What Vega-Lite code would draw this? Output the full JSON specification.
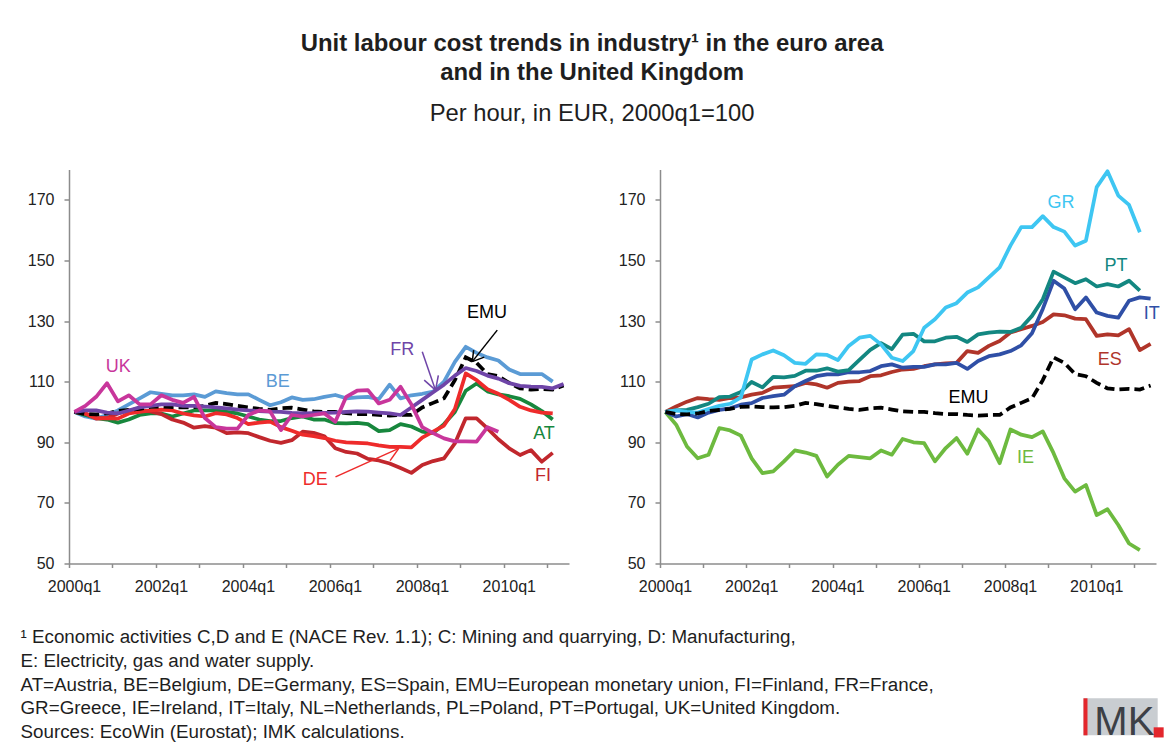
{
"$schema":"https://vega.github.io/schema/vega-lite/v6.json",
"background":"white",
"padding":{"left":20,"top":31.5,"right":0,"bottom":0},
"title":{"text":["Unit labour cost trends in industry¹ in the euro area","and in the United Kingdom"],"subtitle":"Per hour, in EUR, 2000q1=100","anchor":"middle","font":"Liberation Sans","fontSize":23.9,"fontWeight":"bold","lineHeight":28.5,"color":"#1e1e1e","subtitleFont":"Liberation Sans","subtitleFontSize":23.8,"subtitleColor":"#1e1e1e","subtitlePadding":17,"offset":44,"dx":0},
"datasets":{
"series":[
{"s":"BE","q":0,"v":100},{"s":"BE","q":1,"v":98.5},{"s":"BE","q":2,"v":97.8},{"s":"BE","q":3,"v":99},{"s":"BE","q":4,"v":100.5},{"s":"BE","q":5,"v":102.5},{"s":"BE","q":6,"v":104.5},{"s":"BE","q":7,"v":106.5},{"s":"BE","q":8,"v":106},{"s":"BE","q":9,"v":105.5},{"s":"BE","q":10,"v":105.5},{"s":"BE","q":11,"v":105.8},{"s":"BE","q":12,"v":105},{"s":"BE","q":13,"v":106.8},{"s":"BE","q":14,"v":106.2},{"s":"BE","q":15,"v":105.8},{"s":"BE","q":16,"v":105.8},{"s":"BE","q":17,"v":104},{"s":"BE","q":18,"v":102.2},{"s":"BE","q":19,"v":103.2},{"s":"BE","q":20,"v":104.8},{"s":"BE","q":21,"v":104},{"s":"BE","q":22,"v":104.2},{"s":"BE","q":23,"v":105},{"s":"BE","q":24,"v":105.6},{"s":"BE","q":25,"v":104.5},{"s":"BE","q":26,"v":104.8},{"s":"BE","q":27,"v":105},{"s":"BE","q":28,"v":104.2},{"s":"BE","q":29,"v":109},{"s":"BE","q":30,"v":104.5},{"s":"BE","q":31,"v":105.5},{"s":"BE","q":32,"v":106},{"s":"BE","q":33,"v":106.7},{"s":"BE","q":34,"v":110},{"s":"BE","q":35,"v":116.5},{"s":"BE","q":36,"v":121.5},{"s":"BE","q":37,"v":119.5},{"s":"BE","q":38,"v":118},{"s":"BE","q":39,"v":117},{"s":"BE","q":40,"v":114},{"s":"BE","q":41,"v":112.5},{"s":"BE","q":42,"v":112.5},{"s":"BE","q":43,"v":112.5},{"s":"BE","q":44,"v":110},
{"s":"AT","q":0,"v":100},{"s":"AT","q":1,"v":99},{"s":"AT","q":2,"v":98},{"s":"AT","q":3,"v":97.5},{"s":"AT","q":4,"v":96.5},{"s":"AT","q":5,"v":97.5},{"s":"AT","q":6,"v":99},{"s":"AT","q":7,"v":99.5},{"s":"AT","q":8,"v":99.5},{"s":"AT","q":9,"v":98.5},{"s":"AT","q":10,"v":99.5},{"s":"AT","q":11,"v":100.5},{"s":"AT","q":12,"v":100.5},{"s":"AT","q":13,"v":100.5},{"s":"AT","q":14,"v":100},{"s":"AT","q":15,"v":99.5},{"s":"AT","q":16,"v":98.5},{"s":"AT","q":17,"v":97.5},{"s":"AT","q":18,"v":97},{"s":"AT","q":19,"v":97},{"s":"AT","q":20,"v":98},{"s":"AT","q":21,"v":98.5},{"s":"AT","q":22,"v":97.5},{"s":"AT","q":23,"v":97.5},{"s":"AT","q":24,"v":96.3},{"s":"AT","q":25,"v":96.2},{"s":"AT","q":26,"v":96.4},{"s":"AT","q":27,"v":96},{"s":"AT","q":28,"v":93.7},{"s":"AT","q":29,"v":94},{"s":"AT","q":30,"v":96},{"s":"AT","q":31,"v":95.2},{"s":"AT","q":32,"v":93.5},{"s":"AT","q":33,"v":93},{"s":"AT","q":34,"v":96},{"s":"AT","q":35,"v":100},{"s":"AT","q":36,"v":107},{"s":"AT","q":37,"v":109.4},{"s":"AT","q":38,"v":106.8},{"s":"AT","q":39,"v":105.8},{"s":"AT","q":40,"v":105.2},{"s":"AT","q":41,"v":104.3},{"s":"AT","q":42,"v":102.5},{"s":"AT","q":43,"v":100.3},{"s":"AT","q":44,"v":97.5},
{"s":"FI","q":0,"v":100},{"s":"FI","q":1,"v":99.5},{"s":"FI","q":2,"v":98},{"s":"FI","q":3,"v":98},{"s":"FI","q":4,"v":99.5},{"s":"FI","q":5,"v":100.5},{"s":"FI","q":6,"v":100.5},{"s":"FI","q":7,"v":100.2},{"s":"FI","q":8,"v":99.3},{"s":"FI","q":9,"v":97.5},{"s":"FI","q":10,"v":96.5},{"s":"FI","q":11,"v":94.8},{"s":"FI","q":12,"v":95.3},{"s":"FI","q":13,"v":94.8},{"s":"FI","q":14,"v":93},{"s":"FI","q":15,"v":93.3},{"s":"FI","q":16,"v":93},{"s":"FI","q":17,"v":91.7},{"s":"FI","q":18,"v":90.5},{"s":"FI","q":19,"v":89.8},{"s":"FI","q":20,"v":90.7},{"s":"FI","q":21,"v":93.5},{"s":"FI","q":22,"v":93.1},{"s":"FI","q":23,"v":92},{"s":"FI","q":24,"v":88},{"s":"FI","q":25,"v":86.8},{"s":"FI","q":26,"v":86.3},{"s":"FI","q":27,"v":84.5},{"s":"FI","q":28,"v":84},{"s":"FI","q":29,"v":83},{"s":"FI","q":30,"v":81.5},{"s":"FI","q":31,"v":79.9},{"s":"FI","q":32,"v":82.5},{"s":"FI","q":33,"v":83.8},{"s":"FI","q":34,"v":84.7},{"s":"FI","q":35,"v":89.6},{"s":"FI","q":36,"v":97.9},{"s":"FI","q":37,"v":97.9},{"s":"FI","q":38,"v":94.6},{"s":"FI","q":39,"v":91},{"s":"FI","q":40,"v":88},{"s":"FI","q":41,"v":85.8},{"s":"FI","q":42,"v":87.4},{"s":"FI","q":43,"v":83.6},{"s":"FI","q":44,"v":86.5},
{"s":"DE","q":0,"v":100},{"s":"DE","q":1,"v":99.5},{"s":"DE","q":2,"v":97.8},{"s":"DE","q":3,"v":98},{"s":"DE","q":4,"v":97.8},{"s":"DE","q":5,"v":99.5},{"s":"DE","q":6,"v":100},{"s":"DE","q":7,"v":100.5},{"s":"DE","q":8,"v":100.8},{"s":"DE","q":9,"v":100.5},{"s":"DE","q":10,"v":99.5},{"s":"DE","q":11,"v":98.9},{"s":"DE","q":12,"v":98.5},{"s":"DE","q":13,"v":99.6},{"s":"DE","q":14,"v":99.2},{"s":"DE","q":15,"v":98},{"s":"DE","q":16,"v":96},{"s":"DE","q":17,"v":96.5},{"s":"DE","q":18,"v":96.8},{"s":"DE","q":19,"v":95},{"s":"DE","q":20,"v":93.8},{"s":"DE","q":21,"v":92.5},{"s":"DE","q":22,"v":92},{"s":"DE","q":23,"v":91.4},{"s":"DE","q":24,"v":90.5},{"s":"DE","q":25,"v":90},{"s":"DE","q":26,"v":89.8},{"s":"DE","q":27,"v":89.6},{"s":"DE","q":28,"v":89},{"s":"DE","q":29,"v":88.5},{"s":"DE","q":30,"v":88.5},{"s":"DE","q":31,"v":88.3},{"s":"DE","q":32,"v":91.5},{"s":"DE","q":33,"v":93.5},{"s":"DE","q":34,"v":95.5},{"s":"DE","q":35,"v":101},{"s":"DE","q":36,"v":112.7},{"s":"DE","q":37,"v":110.5},{"s":"DE","q":38,"v":107.5},{"s":"DE","q":39,"v":106},{"s":"DE","q":40,"v":104},{"s":"DE","q":41,"v":101.7},{"s":"DE","q":42,"v":100.5},{"s":"DE","q":43,"v":99.8},{"s":"DE","q":44,"v":99.5},
{"s":"FR","q":0,"v":100},{"s":"FR","q":1,"v":100.5},{"s":"FR","q":2,"v":100.5},{"s":"FR","q":3,"v":99.8},{"s":"FR","q":4,"v":99.5},{"s":"FR","q":5,"v":100.5},{"s":"FR","q":6,"v":101.5},{"s":"FR","q":7,"v":102},{"s":"FR","q":8,"v":102.5},{"s":"FR","q":9,"v":102.5},{"s":"FR","q":10,"v":102},{"s":"FR","q":11,"v":102},{"s":"FR","q":12,"v":101.8},{"s":"FR","q":13,"v":101.5},{"s":"FR","q":14,"v":101.2},{"s":"FR","q":15,"v":100.8},{"s":"FR","q":16,"v":100.5},{"s":"FR","q":17,"v":100.3},{"s":"FR","q":18,"v":100.1},{"s":"FR","q":19,"v":100},{"s":"FR","q":20,"v":99.7},{"s":"FR","q":21,"v":99.5},{"s":"FR","q":22,"v":99.6},{"s":"FR","q":23,"v":99.7},{"s":"FR","q":24,"v":99.8},{"s":"FR","q":25,"v":100},{"s":"FR","q":26,"v":100.2},{"s":"FR","q":27,"v":100.1},{"s":"FR","q":28,"v":99.8},{"s":"FR","q":29,"v":99.5},{"s":"FR","q":30,"v":99},{"s":"FR","q":31,"v":101.5},{"s":"FR","q":32,"v":104},{"s":"FR","q":33,"v":106.5},{"s":"FR","q":34,"v":109},{"s":"FR","q":35,"v":112},{"s":"FR","q":36,"v":114.5},{"s":"FR","q":37,"v":113.5},{"s":"FR","q":38,"v":112},{"s":"FR","q":39,"v":111},{"s":"FR","q":40,"v":109.5},{"s":"FR","q":41,"v":108.6},{"s":"FR","q":42,"v":108.4},{"s":"FR","q":43,"v":108.3},{"s":"FR","q":44,"v":107.8},{"s":"FR","q":45,"v":109.2},
{"s":"UK","q":0,"v":100},{"s":"UK","q":1,"v":102},{"s":"UK","q":2,"v":105},{"s":"UK","q":3,"v":109.5},{"s":"UK","q":4,"v":103.5},{"s":"UK","q":5,"v":105.5},{"s":"UK","q":6,"v":102.5},{"s":"UK","q":7,"v":102.5},{"s":"UK","q":8,"v":105.5},{"s":"UK","q":9,"v":104},{"s":"UK","q":10,"v":103},{"s":"UK","q":11,"v":105},{"s":"UK","q":12,"v":98},{"s":"UK","q":13,"v":95},{"s":"UK","q":14,"v":94.5},{"s":"UK","q":15,"v":94.5},{"s":"UK","q":16,"v":99},{"s":"UK","q":17,"v":100.5},{"s":"UK","q":18,"v":100.2},{"s":"UK","q":19,"v":94},{"s":"UK","q":20,"v":99},{"s":"UK","q":21,"v":98.5},{"s":"UK","q":22,"v":99},{"s":"UK","q":23,"v":99.5},{"s":"UK","q":24,"v":96.8},{"s":"UK","q":25,"v":105},{"s":"UK","q":26,"v":107},{"s":"UK","q":27,"v":107.2},{"s":"UK","q":28,"v":102.8},{"s":"UK","q":29,"v":104},{"s":"UK","q":30,"v":108.3},{"s":"UK","q":31,"v":102.5},{"s":"UK","q":32,"v":95},{"s":"UK","q":33,"v":93},{"s":"UK","q":34,"v":91.3},{"s":"UK","q":35,"v":90.3},{"s":"UK","q":36,"v":90.3},{"s":"UK","q":37,"v":90.2},{"s":"UK","q":38,"v":95},{"s":"UK","q":39,"v":93.5},
{"s":"EMU","q":0,"v":100},{"s":"EMU","q":1,"v":99.3},{"s":"EMU","q":2,"v":99.2},{"s":"EMU","q":3,"v":99.5},{"s":"EMU","q":4,"v":100.3},{"s":"EMU","q":5,"v":100.7},{"s":"EMU","q":6,"v":101},{"s":"EMU","q":7,"v":101.7},{"s":"EMU","q":8,"v":101.8},{"s":"EMU","q":9,"v":101.6},{"s":"EMU","q":10,"v":101.5},{"s":"EMU","q":11,"v":101.6},{"s":"EMU","q":12,"v":102},{"s":"EMU","q":13,"v":103},{"s":"EMU","q":14,"v":102.6},{"s":"EMU","q":15,"v":102},{"s":"EMU","q":16,"v":101.5},{"s":"EMU","q":17,"v":101},{"s":"EMU","q":18,"v":100.7},{"s":"EMU","q":19,"v":101.2},{"s":"EMU","q":20,"v":101.4},{"s":"EMU","q":21,"v":100.8},{"s":"EMU","q":22,"v":100.2},{"s":"EMU","q":23,"v":100},{"s":"EMU","q":24,"v":100},{"s":"EMU","q":25,"v":99.6},{"s":"EMU","q":26,"v":99.3},{"s":"EMU","q":27,"v":99.3},{"s":"EMU","q":28,"v":99},{"s":"EMU","q":29,"v":98.8},{"s":"EMU","q":30,"v":99},{"s":"EMU","q":31,"v":99},{"s":"EMU","q":32,"v":101.5},{"s":"EMU","q":33,"v":103},{"s":"EMU","q":34,"v":104.5},{"s":"EMU","q":35,"v":110.5},{"s":"EMU","q":36,"v":118},{"s":"EMU","q":37,"v":116.2},{"s":"EMU","q":38,"v":112.5},{"s":"EMU","q":39,"v":111.8},{"s":"EMU","q":40,"v":109.6},{"s":"EMU","q":41,"v":107.8},{"s":"EMU","q":42,"v":107.4},{"s":"EMU","q":43,"v":107.6},{"s":"EMU","q":44,"v":107.4},{"s":"EMU","q":45,"v":108.7},
{"s":"IE","q":0,"v":100},{"s":"IE","q":1,"v":95.8},{"s":"IE","q":2,"v":88.6},{"s":"IE","q":3,"v":84.7},{"s":"IE","q":4,"v":85.9},{"s":"IE","q":5,"v":94.7},{"s":"IE","q":6,"v":93.9},{"s":"IE","q":7,"v":92.2},{"s":"IE","q":8,"v":84.7},{"s":"IE","q":9,"v":79.8},{"s":"IE","q":10,"v":80.4},{"s":"IE","q":11,"v":83.7},{"s":"IE","q":12,"v":87.3},{"s":"IE","q":13,"v":86.6},{"s":"IE","q":14,"v":85.5},{"s":"IE","q":15,"v":78.7},{"s":"IE","q":16,"v":82.6},{"s":"IE","q":17,"v":85.5},{"s":"IE","q":18,"v":85.1},{"s":"IE","q":19,"v":84.7},{"s":"IE","q":20,"v":87.3},{"s":"IE","q":21,"v":85.9},{"s":"IE","q":22,"v":91.1},{"s":"IE","q":23,"v":90},{"s":"IE","q":24,"v":89.7},{"s":"IE","q":25,"v":83.7},{"s":"IE","q":26,"v":88.1},{"s":"IE","q":27,"v":91.4},{"s":"IE","q":28,"v":86.2},{"s":"IE","q":29,"v":94.2},{"s":"IE","q":30,"v":90.3},{"s":"IE","q":31,"v":83.1},{"s":"IE","q":32,"v":94.2},{"s":"IE","q":33,"v":92.5},{"s":"IE","q":34,"v":91.7},{"s":"IE","q":35,"v":93.6},{"s":"IE","q":36,"v":86.4},{"s":"IE","q":37,"v":78.1},{"s":"IE","q":38,"v":73.7},{"s":"IE","q":39,"v":75.9},{"s":"IE","q":40,"v":66},{"s":"IE","q":41,"v":67.9},{"s":"IE","q":42,"v":62.7},{"s":"IE","q":43,"v":56.6},{"s":"IE","q":44,"v":54.4},
{"s":"ES","q":0,"v":100},{"s":"ES","q":1,"v":101.8},{"s":"ES","q":2,"v":103.4},{"s":"ES","q":3,"v":104.6},{"s":"ES","q":4,"v":104.2},{"s":"ES","q":5,"v":104},{"s":"ES","q":6,"v":104.6},{"s":"ES","q":7,"v":104.8},{"s":"ES","q":8,"v":105.7},{"s":"ES","q":9,"v":106.3},{"s":"ES","q":10,"v":108},{"s":"ES","q":11,"v":108.3},{"s":"ES","q":12,"v":108.5},{"s":"ES","q":13,"v":109.6},{"s":"ES","q":14,"v":109.1},{"s":"ES","q":15,"v":108},{"s":"ES","q":16,"v":109.6},{"s":"ES","q":17,"v":110},{"s":"ES","q":18,"v":110.2},{"s":"ES","q":19,"v":111.8},{"s":"ES","q":20,"v":112.1},{"s":"ES","q":21,"v":113.2},{"s":"ES","q":22,"v":114},{"s":"ES","q":23,"v":114.2},{"s":"ES","q":24,"v":115.1},{"s":"ES","q":25,"v":115.7},{"s":"ES","q":26,"v":116},{"s":"ES","q":27,"v":116.2},{"s":"ES","q":28,"v":120.1},{"s":"ES","q":29,"v":119.5},{"s":"ES","q":30,"v":121.8},{"s":"ES","q":31,"v":123.4},{"s":"ES","q":32,"v":126.2},{"s":"ES","q":33,"v":127.3},{"s":"ES","q":34,"v":128.4},{"s":"ES","q":35,"v":129.7},{"s":"ES","q":36,"v":132.2},{"s":"ES","q":37,"v":131.9},{"s":"ES","q":38,"v":130.8},{"s":"ES","q":39,"v":130.6},{"s":"ES","q":40,"v":125.1},{"s":"ES","q":41,"v":125.6},{"s":"ES","q":42,"v":125.3},{"s":"ES","q":43,"v":127.3},{"s":"ES","q":44,"v":120.4},{"s":"ES","q":45,"v":122.5},
{"s":"IT","q":0,"v":100},{"s":"IT","q":1,"v":98.5},{"s":"IT","q":2,"v":99.3},{"s":"IT","q":3,"v":98.2},{"s":"IT","q":4,"v":99.8},{"s":"IT","q":5,"v":100.7},{"s":"IT","q":6,"v":101.2},{"s":"IT","q":7,"v":102.4},{"s":"IT","q":8,"v":102.9},{"s":"IT","q":9,"v":104.6},{"s":"IT","q":10,"v":105.2},{"s":"IT","q":11,"v":105.7},{"s":"IT","q":12,"v":108.5},{"s":"IT","q":13,"v":110.2},{"s":"IT","q":14,"v":111.8},{"s":"IT","q":15,"v":112.4},{"s":"IT","q":16,"v":112.4},{"s":"IT","q":17,"v":113.1},{"s":"IT","q":18,"v":113.1},{"s":"IT","q":19,"v":113.5},{"s":"IT","q":20,"v":115.1},{"s":"IT","q":21,"v":115.7},{"s":"IT","q":22,"v":114.6},{"s":"IT","q":23,"v":114.9},{"s":"IT","q":24,"v":114.9},{"s":"IT","q":25,"v":115.7},{"s":"IT","q":26,"v":115.7},{"s":"IT","q":27,"v":116.2},{"s":"IT","q":28,"v":114.2},{"s":"IT","q":29,"v":116.8},{"s":"IT","q":30,"v":118.4},{"s":"IT","q":31,"v":119},{"s":"IT","q":32,"v":120.1},{"s":"IT","q":33,"v":122},{"s":"IT","q":34,"v":126},{"s":"IT","q":35,"v":134},{"s":"IT","q":36,"v":143.3},{"s":"IT","q":37,"v":140.7},{"s":"IT","q":38,"v":133.9},{"s":"IT","q":39,"v":137.8},{"s":"IT","q":40,"v":132.8},{"s":"IT","q":41,"v":131.7},{"s":"IT","q":42,"v":131.1},{"s":"IT","q":43,"v":136.7},{"s":"IT","q":44,"v":137.8},{"s":"IT","q":45,"v":137.4},
{"s":"PT","q":0,"v":100},{"s":"PT","q":1,"v":100.5},{"s":"PT","q":2,"v":100.7},{"s":"PT","q":3,"v":101.6},{"s":"PT","q":4,"v":102.7},{"s":"PT","q":5,"v":104.9},{"s":"PT","q":6,"v":105.1},{"s":"PT","q":7,"v":106.6},{"s":"PT","q":8,"v":109.9},{"s":"PT","q":9,"v":108.1},{"s":"PT","q":10,"v":111.6},{"s":"PT","q":11,"v":111.4},{"s":"PT","q":12,"v":111.9},{"s":"PT","q":13,"v":113.6},{"s":"PT","q":14,"v":113.6},{"s":"PT","q":15,"v":114.4},{"s":"PT","q":16,"v":113.3},{"s":"PT","q":17,"v":113.8},{"s":"PT","q":18,"v":117.2},{"s":"PT","q":19,"v":120.5},{"s":"PT","q":20,"v":122.7},{"s":"PT","q":21,"v":120.7},{"s":"PT","q":22,"v":125.5},{"s":"PT","q":23,"v":125.8},{"s":"PT","q":24,"v":123.3},{"s":"PT","q":25,"v":123.3},{"s":"PT","q":26,"v":124.5},{"s":"PT","q":27,"v":124.8},{"s":"PT","q":28,"v":123.1},{"s":"PT","q":29,"v":125.6},{"s":"PT","q":30,"v":126.2},{"s":"PT","q":31,"v":126.5},{"s":"PT","q":32,"v":126.4},{"s":"PT","q":33,"v":127.8},{"s":"PT","q":34,"v":131.7},{"s":"PT","q":35,"v":137.2},{"s":"PT","q":36,"v":146.3},{"s":"PT","q":37,"v":144.4},{"s":"PT","q":38,"v":142.5},{"s":"PT","q":39,"v":143.8},{"s":"PT","q":40,"v":141.4},{"s":"PT","q":41,"v":142.2},{"s":"PT","q":42,"v":141.4},{"s":"PT","q":43,"v":143.3},{"s":"PT","q":44,"v":140},
{"s":"GR","q":0,"v":100},{"s":"GR","q":1,"v":100.5},{"s":"GR","q":2,"v":100},{"s":"GR","q":3,"v":99.8},{"s":"GR","q":4,"v":101},{"s":"GR","q":5,"v":102},{"s":"GR","q":6,"v":102.7},{"s":"GR","q":7,"v":104.8},{"s":"GR","q":8,"v":117.3},{"s":"GR","q":9,"v":119},{"s":"GR","q":10,"v":120.3},{"s":"GR","q":11,"v":118.7},{"s":"GR","q":12,"v":116.2},{"s":"GR","q":13,"v":115.9},{"s":"GR","q":14,"v":119},{"s":"GR","q":15,"v":118.8},{"s":"GR","q":16,"v":117.1},{"s":"GR","q":17,"v":121.8},{"s":"GR","q":18,"v":124.5},{"s":"GR","q":19,"v":125.1},{"s":"GR","q":20,"v":122.3},{"s":"GR","q":21,"v":117.9},{"s":"GR","q":22,"v":116.8},{"s":"GR","q":23,"v":120.1},{"s":"GR","q":24,"v":127.8},{"s":"GR","q":25,"v":130.6},{"s":"GR","q":26,"v":134.5},{"s":"GR","q":27,"v":135.9},{"s":"GR","q":28,"v":139.4},{"s":"GR","q":29,"v":141.1},{"s":"GR","q":30,"v":144.4},{"s":"GR","q":31,"v":147.7},{"s":"GR","q":32,"v":154.9},{"s":"GR","q":33,"v":161},{"s":"GR","q":34,"v":161},{"s":"GR","q":35,"v":164.6},{"s":"GR","q":36,"v":161},{"s":"GR","q":37,"v":159.5},{"s":"GR","q":38,"v":154.9},{"s":"GR","q":39,"v":156.5},{"s":"GR","q":40,"v":174.2},{"s":"GR","q":41,"v":179.4},{"s":"GR","q":42,"v":171.4},{"s":"GR","q":43,"v":168.3},{"s":"GR","q":44,"v":159.3}
],
"labels":[
{"panel":"L","s":"UK","q":4.04,"v":114.9},{"panel":"L","s":"BE","q":18.7,"v":109.9},{"panel":"L","s":"FR","q":30.15,"v":120.4},{"panel":"L","s":"EMU","q":37.95,"v":132.5},{"panel":"L","s":"DE","q":22.15,"v":77.4},{"panel":"L","s":"AT","q":43.2,"v":92.8},{"panel":"L","s":"FI","q":43.1,"v":79.0},
{"panel":"R","s":"GR","q":36.7,"v":169.0},{"panel":"R","s":"PT","q":41.8,"v":148.0},{"panel":"R","s":"IT","q":45.1,"v":132.2},{"panel":"R","s":"ES","q":41.2,"v":117.3},{"panel":"R","s":"EMU","q":28.1,"v":104.6},{"panel":"R","s":"IE","q":33.4,"v":84.8}
],
"arrows":[
{"s":"FR","q":32.0,"v":119.9,"q2":33.22,"v2":107.2},{"s":"FR","q":33.48,"v":112.1,"q2":33.22,"v2":107.2},{"s":"FR","q":32.18,"v":110.5,"q2":33.22,"v2":107.2},
{"s":"EMU","q":38.9,"v":127.0,"q2":36.6,"v2":116.6},{"s":"EMU","q":36.73,"v":120.4,"q2":36.6,"v2":116.6},{"s":"EMU","q":37.7,"v":118.1,"q2":36.6,"v2":116.6},
{"s":"DE","q":24.02,"v":78.6,"q2":29.84,"v2":88.0},{"s":"DE","q":28.48,"v":88.5,"q2":29.84,"v2":88.0},{"s":"DE","q":29.04,"v":83.95,"q2":29.84,"v2":88.0}
],
"notes":[
{"line":1,"text":"¹ Economic activities C,D and E (NACE Rev. 1.1); C: Mining and quarrying, D: Manufacturing,"},
{"line":2,"text":"E: Electricity, gas and water supply."},
{"line":3,"text":"AT=Austria, BE=Belgium, DE=Germany, ES=Spain, EMU=European monetary union, FI=Finland, FR=France,"},
{"line":4,"text":"GR=Greece, IE=Ireland, IT=Italy, NL=Netherlands, PL=Poland, PT=Portugal, UK=United Kingdom."},
{"line":5,"text":"Sources: EcoWin (Eurostat); IMK calculations."}
]
},
"vconcat":[
{"hconcat":[
{"width":500,"height":394,
"layer":[
{"data":{"name":"series"},"transform":[{"filter":{"field":"s","oneOf":["BE","AT","FI","DE"]}}],
"mark":{"type":"line","strokeWidth":3.75,"strokeJoin":"round"},
"encoding":{"x":{"field":"q","type":"quantitative","scale":{"domain":[-0.5,45.5],"nice":false,"zero":false},"axis":{"values":[-0.5,3.5,7.5,11.5,15.5,19.5,23.5,27.5,31.5,35.5,39.5,43.5],"labelExpr":"(datum.value + 0.5) % 8 == 0 ? (2000 + (datum.value + 0.5) / 4) + 'q1' : ''","labelOffset":5,"tickSize":4,"labelPadding":11,"labelOverlap":false,"labelFlush":false}},
"y":{"field":"v","type":"quantitative","scale":{"domain":[50,180],"nice":false,"zero":false},"axis":{"values":[50,70,90,110,130,150,170],"tickSize":5,"labelPadding":10}},
"color":{"field":"s","type":"nominal","scale":{"domain":["AT","BE","DE","FI","FR","UK","EMU","GR","PT","IT","ES","IE"],"range":["#17873d","#5b9bd5","#ee2b2b","#c1272d","#6f45a8","#c8369b","#000000","#3ec6f2","#138781","#2f4fa6","#b0352a","#6dba3f"]},"legend":null}}},
{"data":{"name":"series"},"transform":[{"filter":"datum.s == 'EMU'"}],
"mark":{"type":"line","strokeWidth":3.75,"color":"#000000","strokeDash":[10,5]},
"encoding":{"x":{"field":"q","type":"quantitative"},"y":{"field":"v","type":"quantitative"}}},
{"data":{"name":"series"},"transform":[{"filter":{"field":"s","oneOf":["FR","UK"]}}],
"mark":{"type":"line","strokeWidth":3.75,"strokeJoin":"round"},
"encoding":{"x":{"field":"q","type":"quantitative"},"y":{"field":"v","type":"quantitative"},"color":{"field":"s","type":"nominal"}}},
{"data":{"name":"arrows"},
"mark":{"type":"rule","strokeWidth":1.5},
"encoding":{"x":{"field":"q","type":"quantitative"},"y":{"field":"v","type":"quantitative"},"x2":{"field":"q2"},"y2":{"field":"v2"},"color":{"field":"s","type":"nominal"}}},
{"data":{"name":"labels"},"transform":[{"filter":"datum.panel == 'L'"}],
"mark":{"type":"text","fontSize":18,"align":"center","baseline":"middle"},
"encoding":{"x":{"field":"q","type":"quantitative"},"y":{"field":"v","type":"quantitative"},"text":{"field":"s"},"color":{"field":"s","type":"nominal"}}}
]},
{"width":496,"height":394,
"layer":[
{"data":{"name":"series"},"transform":[{"filter":{"field":"s","oneOf":["IE","ES","IT","PT","GR"]}}],
"mark":{"type":"line","strokeWidth":3.75,"strokeJoin":"round"},
"encoding":{"x":{"field":"q","type":"quantitative","scale":{"domain":[-0.5,45.5],"nice":false,"zero":false},"axis":{"values":[-0.5,3.5,7.5,11.5,15.5,19.5,23.5,27.5,31.5,35.5,39.5,43.5],"labelExpr":"(datum.value + 0.5) % 8 == 0 ? (2000 + (datum.value + 0.5) / 4) + 'q1' : ''","labelOffset":5,"tickSize":4,"labelPadding":11,"labelOverlap":false,"labelFlush":false}},
"y":{"field":"v","type":"quantitative","scale":{"domain":[50,180],"nice":false,"zero":false},"axis":{"values":[50,70,90,110,130,150,170],"tickSize":5,"labelPadding":10}},
"color":{"field":"s","type":"nominal","scale":{"domain":["AT","BE","DE","FI","FR","UK","EMU","GR","PT","IT","ES","IE"],"range":["#17873d","#5b9bd5","#ee2b2b","#c1272d","#6f45a8","#c8369b","#000000","#3ec6f2","#138781","#2f4fa6","#b0352a","#6dba3f"]},"legend":null}}},
{"data":{"name":"series"},"transform":[{"filter":"datum.s == 'EMU'"}],
"mark":{"type":"line","strokeWidth":3.75,"color":"#000000","strokeDash":[10,5]},
"encoding":{"x":{"field":"q","type":"quantitative"},"y":{"field":"v","type":"quantitative"}}},
{"data":{"name":"labels"},"transform":[{"filter":"datum.panel == 'R'"}],
"mark":{"type":"text","fontSize":18,"align":"center","baseline":"middle"},
"encoding":{"x":{"field":"q","type":"quantitative"},"y":{"field":"v","type":"quantitative"},"text":{"field":"s"},"color":{"field":"s","type":"nominal"}}}
]}
],"spacing":46,"resolve":{"scale":{"x":"independent","y":"independent"}}},
{"width":1085,"height":118,
"layer":[
{"data":{"name":"notes"},
"mark":{"type":"text","align":"left","baseline":"alphabetic","fontSize":18.8,"color":"#1e1e1e","dx":-48.5},
"encoding":{"x":{"datum":0,"type":"quantitative","scale":{"domain":[0,100]},"axis":null},"y":{"field":"line","type":"quantitative","scale":{"domain":[0.5,5.5],"reverse":true},"axis":null},"text":{"field":"text"}}},
{"data":{"values":[{}]},"mark":{"type":"rect","color":"#c9cdd1"},
"encoding":{"x":{"datum":93.5,"type":"quantitative"},"x2":{"datum":100.34},"y":{"datum":3.33,"type":"quantitative"},"y2":{"datum":4.9}}},
{"data":{"values":[{}]},"mark":{"type":"rect","color":"#e3262c"},
"encoding":{"x":{"datum":93.5,"type":"quantitative"},"x2":{"datum":93.87},"y":{"datum":3.33,"type":"quantitative"},"y2":{"datum":4.9}}},
{"data":{"values":[{}]},"mark":{"type":"rect","color":"#e3262c"},
"encoding":{"x":{"datum":99.97,"type":"quantitative"},"x2":{"datum":100.89},"y":{"datum":4.56,"type":"quantitative"},"y2":{"datum":4.99}}},
{"data":{"values":[{"t":"MK"}]},"mark":{"type":"text","align":"left","baseline":"alphabetic","fontSize":40,"font":"Liberation Sans","color":"#3d4046"},
"encoding":{"x":{"datum":94.5,"type":"quantitative"},"y":{"datum":4.9,"type":"quantitative"},"text":{"field":"t"}}}
]}
],
"spacing":33,
"config":{
"font":"Liberation Sans",
"view":{"stroke":null},
"axis":{"grid":false,"title":null,"domainColor":"#8c8c8c","domainWidth":1.5,"tickColor":"#8c8c8c","tickWidth":1.5,"labelFont":"Liberation Sans","labelFontSize":16,"labelColor":"#222222"}
}
}
